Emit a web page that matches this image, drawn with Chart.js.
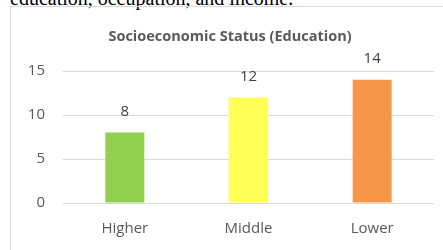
<!DOCTYPE html>
<html>
<head>
<meta charset="utf-8">
<script src="https://cdn.jsdelivr.net/npm/chart.js@4"></script>
<style>
    html, body { margin: 0; padding: 0; background: #fff; overflow: hidden; }
    body { width: 443px; height: 250px; position: relative; }
    .caption {
        position: absolute; left: 10px; top: -12.5px;
        font: 20px/20px "Liberation Serif", serif; color: #000; white-space: nowrap;
    }
    .frame {
        position: absolute; left: 10px; top: 6px; width: 460px; height: 260px;
        border: 1px solid #d9d9d9;
    }
    #wrap { position: absolute; left: 0; top: 0; width: 443px; height: 250px; }
</style>
</head>
<body>
<div class="caption">education, occupation, and income.</div>
<div class="frame"></div>
<div id="wrap"><canvas id="sesChart"></canvas></div>
<script>
// Chart data
const categories = ['Higher', 'Middle', 'Lower'];
const counts = [8, 12, 14];
const barColors = ['#92d050', '#ffff55', '#f79646'];
const yTicks = [0, 5, 10, 15];

const textGray = '#595959';
const fontFamily = '"Open Sans", sans-serif';

// Draw value labels above each bar
const valueLabels = {
    id: 'valueLabels',
    afterDatasetsDraw(chart) {
        const ctx = chart.ctx;
        const meta = chart.getDatasetMeta(0);
        ctx.save();
        ctx.fillStyle = '#404040';
        ctx.font = '15px ' + fontFamily;
        ctx.textAlign = 'center';
        ctx.textBaseline = 'middle';
        meta.data.forEach((bar, i) => {
            ctx.fillText(counts[i], bar.x, bar.y - 21);
        });
        ctx.restore();
    }
};

new Chart(document.getElementById('sesChart'), {
    type: 'bar',
    data: {
        labels: categories,
        datasets: [{
            data: counts,
            backgroundColor: barColors,
            borderWidth: 0,
            barPercentage: 0.315,
            categoryPercentage: 1
        }]
    },
    options: {
        responsive: true,
        maintainAspectRatio: false,
        animation: false,
        layout: { padding: { left: 26, right: 9, top: 0, bottom: 0 } },
        plugins: {
            legend: { display: false },
            tooltip: { enabled: false },
            title: {
                display: true,
                text: 'Socioeconomic Status (Education)',
                color: textGray,
                font: { family: fontFamily, size: 14.5, weight: 'bold' },
                padding: { top: 28.3, bottom: 25.3 }
            }
        },
        scales: {
            x: {
                grid: { display: false, drawTicks: false },
                border: { display: false },
                ticks: {
                    color: textGray,
                    font: { family: fontFamily, size: 15 },
                    padding: 17
                },
                afterFit(scale) { scale.height = 47; }
            },
            y: {
                min: 0,
                max: 15,
                afterBuildTicks(scale) { scale.ticks = yTicks.map(v => ({ value: v })); },
                grid: { color: '#d9d9d9', lineWidth: 1, drawTicks: false },
                border: { display: false },
                ticks: {
                    color: textGray,
                    font: { family: fontFamily, size: 15 },
                    padding: 18
                },
                afterFit(scale) { scale.width = 37; }
            }
        }
    },
    plugins: [valueLabels]
});
</script>
</body>
</html>
